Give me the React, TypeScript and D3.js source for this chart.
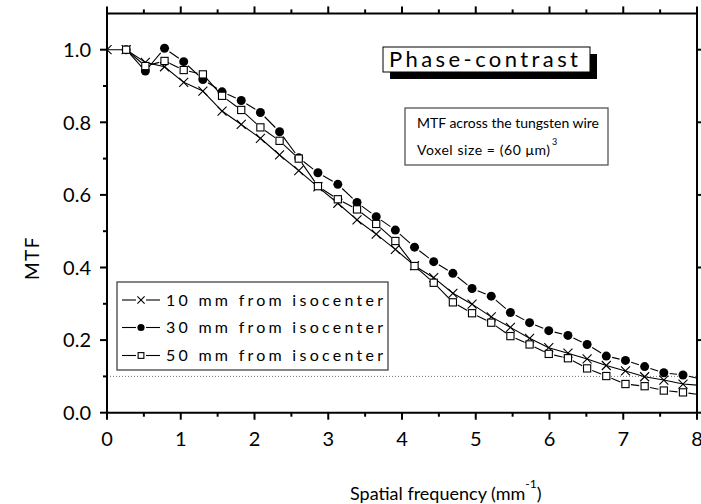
import React from 'react';
import * as d3 from 'd3';

// Spatial frequency (mm^-1) sample positions
const freq = [0, 0.26, 0.52, 0.78, 1.04, 1.30, 1.56, 1.82, 2.08, 2.34, 2.60, 2.86, 3.13, 3.39, 3.65, 3.91,
  4.17, 4.43, 4.69, 4.95, 5.21, 5.47, 5.73, 5.99, 6.25, 6.51, 6.77, 7.03, 7.29, 7.55, 7.81, 8.07];

// 10 mm from isocenter (crosses)
const mtf10 = [1.0, 1.0, 0.965, 0.953, 0.910, 0.886, 0.831, 0.794, 0.756, 0.710, 0.667, 0.622, 0.577, 0.531,
  0.492, 0.450, 0.405, 0.372, 0.329, 0.299, 0.264, 0.235, 0.205, 0.179, 0.164, 0.148, 0.130, 0.115, 0.099,
  0.090, 0.079, 0.075];
// 30 mm from isocenter (filled circles)
const mtf30 = [null, 1.0, 0.941, 1.004, 0.967, 0.918, 0.884, 0.860, 0.827, 0.774, 0.702, 0.661, 0.629, 0.579,
  0.540, 0.503, 0.456, 0.416, 0.384, 0.342, 0.321, 0.276, 0.248, 0.226, 0.213, 0.188, 0.156, 0.144, 0.127,
  0.110, 0.104, 0.092];
// 50 mm from isocenter (open squares)
const mtf50 = [null, 1.0, 0.955, 0.969, 0.944, 0.932, 0.873, 0.834, 0.786, 0.749, 0.700, 0.624, 0.588, 0.560,
  0.520, 0.473, 0.404, 0.358, 0.304, 0.274, 0.248, 0.211, 0.188, 0.162, 0.150, 0.122, 0.101, 0.079, 0.073,
  0.061, 0.056, 0.049];

const seriesNames = ['10 mm from isocenter', '30 mm from isocenter', '50 mm from isocenter'];
const xTicks = [0, 1, 2, 3, 4, 5, 6, 7, 8];
const xMinor = [0.5, 1.5, 2.5, 3.5, 4.5, 5.5, 6.5, 7.5];
const yTicks = [0, 0.2, 0.4, 0.6, 0.8, 1.0];
const yMinor = [0.1, 0.3, 0.5, 0.7, 0.9];
const refLevel = 0.1;

const FONT = 'Lato, "Open Sans", sans-serif';

type Kind = 'cross' | 'circle' | 'square';

function Marker({ kind, x, y, s = 1 }: { kind: Kind; x: number; y: number; s?: number }) {
  if (kind === 'circle') return <circle cx={x} cy={y} r={4.5 * s} fill="#000" />;
  if (kind === 'square') {
    const h = 3.6 * s;
    return <rect x={x - h} y={y - h} width={2 * h} height={2 * h} fill="#fff" stroke="#000" strokeWidth={1.1} />;
  }
  const h = 4.5 * s;
  return (
    <path d={`M${x - h},${y - h}L${x + h},${y + h}M${x - h},${y + h}L${x + h},${y - h}`} stroke="#000" strokeWidth={1.1} fill="none" />
  );
}

export default function App() {
  const W = 701, H = 504;
  const x = d3.scaleLinear().domain([0, 8]).range([107, 697]);
  const y = d3.scaleLinear().domain([0, 1.1]).range([412.7, 13.4]);
  const x0 = x(0), x1 = x(8), y0 = y(0), y1 = y(1.1);

  const series: { vals: (number | null)[]; kind: Kind; gap: number }[] = [
    { vals: mtf10, kind: 'cross', gap: 0 },
    { vals: mtf30, kind: 'circle', gap: 6 },
    { vals: mtf50, kind: 'square', gap: 5.5 },
  ];

  const segs = (vals: (number | null)[], gap: number) => {
    const pts = freq.map((f, i) => (vals[i] == null ? null : [x(f), y(vals[i] as number)])).filter(Boolean) as number[][];
    const out: string[] = [];
    for (let i = 0; i < pts.length - 1; i++) {
      const [ax, ay] = pts[i], [bx, by] = pts[i + 1];
      const d = Math.hypot(bx - ax, by - ay);
      if (d <= 2 * gap) continue;
      const ux = (bx - ax) / d, uy = (by - ay) / d;
      out.push(`M${ax + ux * gap},${ay + uy * gap}L${bx - ux * gap},${by - uy * gap}`);
    }
    return out.join('');
  };

  const kinds: Kind[] = ['cross', 'circle', 'square'];
  const legendRows = [300, 327.5, 355.5];

  return (
    <svg width={W} height={H} style={{ position: 'absolute', left: 0, top: 0, background: '#fff' }} fontFamily={FONT}>
      <rect x={0} y={0} width={W} height={H} fill="#fff" />
      <defs>
        <clipPath id="plot">
          <rect x={x0} y={y1} width={x1 - x0} height={y0 - y1} />
        </clipPath>
      </defs>

      {/* reference line */}
      <line x1={x0} x2={x1} y1={y(refLevel)} y2={y(refLevel)} stroke="#777" strokeWidth={1} strokeDasharray="1 2" />

      {/* data */}
      <g clipPath="url(#plot)">
        {series.map((s, si) => (
          <g key={si}>
            <path d={segs(s.vals, s.gap)} stroke="#000" strokeWidth={1.1} fill="none" />
            {freq.map((f, i) =>
              s.vals[i] == null ? null : <Marker key={i} kind={s.kind} x={x(f)} y={y(s.vals[i] as number)} />
            )}
          </g>
        ))}
      </g>

      {/* frame */}
      <g stroke="#000" strokeWidth={2}>
        <line x1={x0} x2={x0} y1={y1 - 1} y2={y0 + 1} />
        <line x1={x0 - 1} x2={x1 + 1} y1={y0} y2={y0} />
        <line x1={x0 - 1} x2={x1 + 1} y1={y1} y2={y1} />
        <line x1={x1} x2={x1} y1={y1} y2={y0} />
        {yTicks.map((t) => <line key={'yl' + t} x1={x0 - 7} x2={x0} y1={y(t)} y2={y(t)} />)}
        {yMinor.map((t) => <line key={'ym' + t} x1={x0 - 4} x2={x0} y1={y(t)} y2={y(t)} />)}
        {yTicks.map((t) => <line key={'yr' + t} x1={x1} x2={x1 + 7} y1={y(t)} y2={y(t)} />)}
        {xTicks.map((t) => <line key={'xb' + t} x1={x(t)} x2={x(t)} y1={y0} y2={y0 + 7} />)}
        {xMinor.map((t) => <line key={'xbm' + t} x1={x(t)} x2={x(t)} y1={y0} y2={y0 + 4} />)}
        {xTicks.map((t) => <line key={'xt' + t} x1={x(t)} x2={x(t)} y1={y1} y2={y1 - 7} />)}
        {xMinor.map((t) => <line key={'xtm' + t} x1={x(t)} x2={x(t)} y1={y1} y2={y1 - 4} />)}
      </g>

      {/* tick labels */}
      {yTicks.map((t) => (
        <text key={'ylab' + t} x={91} y={y(t)} dy="0.36em" textAnchor="end" fontSize={20} fill="#000">
          {d3.format('.1f')(t)}
        </text>
      ))}
      {xTicks.map((t) => (
        <text key={'xlab' + t} x={x(t)} y={446} textAnchor="middle" fontSize={20} fill="#000">
          {t}
        </text>
      ))}

      {/* axis titles */}
      <text transform="translate(39,258) rotate(-90)" textAnchor="middle" fontSize={19} letterSpacing={1.5}>MTF</text>
      <text x={350} y={500} fontSize={18}>
        Spatial frequency (mm<tspan dy={-12} fontSize={12}>-1</tspan><tspan dy={12}>)</tspan>
      </text>

      {/* Phase-contrast box */}
      <rect x={390} y={54} width={207} height={25} fill="#000" />
      <rect x={383} y={47} width={207} height={25} fill="#fff" stroke="#000" strokeWidth={1} />
      <text x={389} y={67} fontSize={22} textLength={189} lengthAdjust="spacing">Phase-contrast</text>

      {/* info box */}
      <rect x={405} y={108} width={203} height={57} fill="#fff" stroke="#555" strokeWidth={1.3} />
      <text x={417} y={128} fontSize={14} textLength={182} lengthAdjust="spacing">MTF across the tungsten wire</text>
      <text x={417} y={155} fontSize={14} textLength={133} lengthAdjust="spacing">Voxel size = (60 μm)</text>
      <text x={552} y={145} fontSize={9}>3</text>

      {/* legend */}
      <rect x={117} y={282} width={271} height={88} fill="#fff" stroke="#444" strokeWidth={1.3} />
      {kinds.map((k, i) => (
        <g key={'leg' + i}>
          <line x1={122} x2={136} y1={legendRows[i]} y2={legendRows[i]} stroke="#000" strokeWidth={1.1} />
          <line x1={146} x2={160} y1={legendRows[i]} y2={legendRows[i]} stroke="#000" strokeWidth={1.1} />
          <Marker kind={k} x={141} y={legendRows[i]} s={0.8} />
          <text x={166} y={legendRows[i]} dy="0.36em" fontSize={16} textLength={217} lengthAdjust="spacing">
            {seriesNames[i]}
          </text>
        </g>
      ))}
    </svg>
  );
}
